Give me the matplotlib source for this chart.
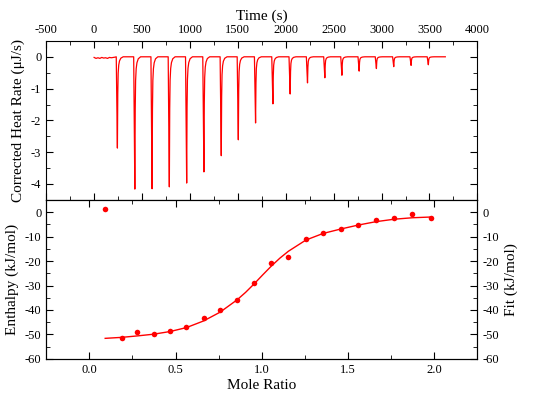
import matplotlib.pyplot as plt
from matplotlib.ticker import MultipleLocator

plt.rcParams['font.family'] = ['Liberation Serif', 'DejaVu Serif']

# thermogram: time of each injection minimum (s) and its depth (uJ/s)
peak_time = [243, 425, 605, 785, 966, 1146, 1327, 1505, 1685, 1866,
             2046, 2227, 2408, 2586, 2766, 2946, 3127, 3308, 3488]
peak_depth = [-2.87, -4.16, -4.15, -4.09, -3.97, -3.62, -3.11, -2.61, -2.08, -1.48,
              -1.17, -0.82, -0.66, -0.58, -0.45, -0.37, -0.31, -0.27, -0.25]
# peak profile: offset from minimum (s) and fraction of depth
shape_dt = [-12, 0, 4, 8, 14, 22, 36, 60]
shape_frac = [0, 1, 0.40, 0.18, 0.09, 0.045, 0.015, 0]
# baseline before the first injection
start_t = [0, 20, 40, 60, 80, 100, 120, 140, 160, 180, 200, 220]
start_y = [-0.02, -0.05, -0.03, -0.05, -0.02, -0.04, -0.03, -0.05, -0.02, -0.03, -0.02, -0.01]
end_time = 3665

# isotherm
mole_ratio = [0.092, 0.187, 0.279, 0.373, 0.469, 0.563, 0.662, 0.758, 0.856, 0.956,
              1.056, 1.154, 1.256, 1.356, 1.458, 1.558, 1.662, 1.767, 1.873, 1.979]
enthalpy = [1.1, -51.5, -49.1, -50.0, -48.8, -47.0, -43.4, -40.0, -36.1, -28.9,
            -20.7, -18.3, -11.0, -8.7, -6.8, -5.3, -3.3, -2.3, -0.7, -2.6]
fit_x = [0.092, 0.187, 0.279, 0.373, 0.469, 0.563, 0.662, 0.758, 0.856, 0.906, 0.956,
         1.006, 1.056, 1.105, 1.154, 1.256, 1.356, 1.458, 1.558, 1.662, 1.767, 1.873, 1.979]
fit_y = [-51.6, -51.2, -50.6, -49.9, -48.8, -47.2, -44.5, -40.9, -35.9, -32.8, -29.3,
         -25.6, -22.0, -18.8, -16.0, -11.4, -8.7, -6.9, -5.3, -3.9, -2.9, -2.3, -2.0]

red = '#ff0000'

t = list(start_t)
y = list(start_y)
for tp, d in zip(peak_time, peak_depth):
    for dt, f in zip(shape_dt, shape_frac):
        t.append(tp + dt)
        y.append(d * f)
t.append(end_time)
y.append(0)

fig, (ax1, ax2) = plt.subplots(2, 1, figsize=(5.5, 4.01), dpi=100)
fig.subplots_adjust(left=0.084, right=0.868, top=0.898, bottom=0.105, hspace=0)

ax1.plot(t, y, color=red, lw=0.9)
ax1.set_xlim(-500, 4000)
ax1.set_ylim(-4.5, 0.5)
ax1.xaxis.set_major_locator(MultipleLocator(500))
ax1.xaxis.set_minor_locator(MultipleLocator(250))
ax1.yaxis.set_major_locator(MultipleLocator(1))
ax1.yaxis.set_minor_locator(MultipleLocator(0.5))
ax1.xaxis.tick_top()
ax1.xaxis.set_label_position('top')
ax1.tick_params(which='both', direction='in', top=True, bottom=True, left=True, right=True,
                labelbottom=False, labeltop=True, labelsize=9)
ax1.tick_params(which='major', length=5)
ax1.tick_params(which='minor', length=3)
ax1.set_xlabel('Time (s)', fontsize=11, labelpad=3)
ax1.set_ylabel('Corrected Heat Rate (\u03bcJ/s)', fontsize=11)

ax2.plot(fit_x, fit_y, color=red, lw=1)
ax2.plot(mole_ratio, enthalpy, 'o', color=red, ms=4, mec='none')
ax2.set_xlim(-0.25, 2.25)
ax2.set_ylim(-60, 5)
ax2.xaxis.set_major_locator(MultipleLocator(0.5))
ax2.xaxis.set_minor_locator(MultipleLocator(0.25))
ax2.yaxis.set_major_locator(MultipleLocator(10))
ax2.yaxis.set_minor_locator(MultipleLocator(5))
ax2.xaxis.set_major_formatter(lambda v, p: f'{v:.1f}')
ax2.tick_params(which='both', direction='in', top=True, bottom=True, left=True, right=False,
                labelsize=9)
ax2.tick_params(which='major', length=5)
ax2.tick_params(which='minor', length=3)
ax2.set_xlabel('Mole Ratio', fontsize=11, labelpad=2)
ax2.set_ylabel('Enthalpy (kJ/mol)', fontsize=11)

ax3 = ax2.twinx()
ax3.set_ylim(-60, 5)
ax3.yaxis.set_major_locator(MultipleLocator(10))
ax3.yaxis.set_minor_locator(MultipleLocator(5))
ax3.tick_params(which='both', direction='in', labelsize=9)
ax3.tick_params(which='major', length=5)
ax3.tick_params(which='minor', length=3)
ax3.set_ylabel('Fit (kJ/mol)', fontsize=11)

for ax in (ax1, ax2, ax3):
    ax.yaxis.set_major_formatter(lambda v, p: f'{v:g}')
ax1.xaxis.set_major_formatter(lambda v, p: f'{v:g}')

plt.savefig('out.png', dpi=100)
plt.close()
